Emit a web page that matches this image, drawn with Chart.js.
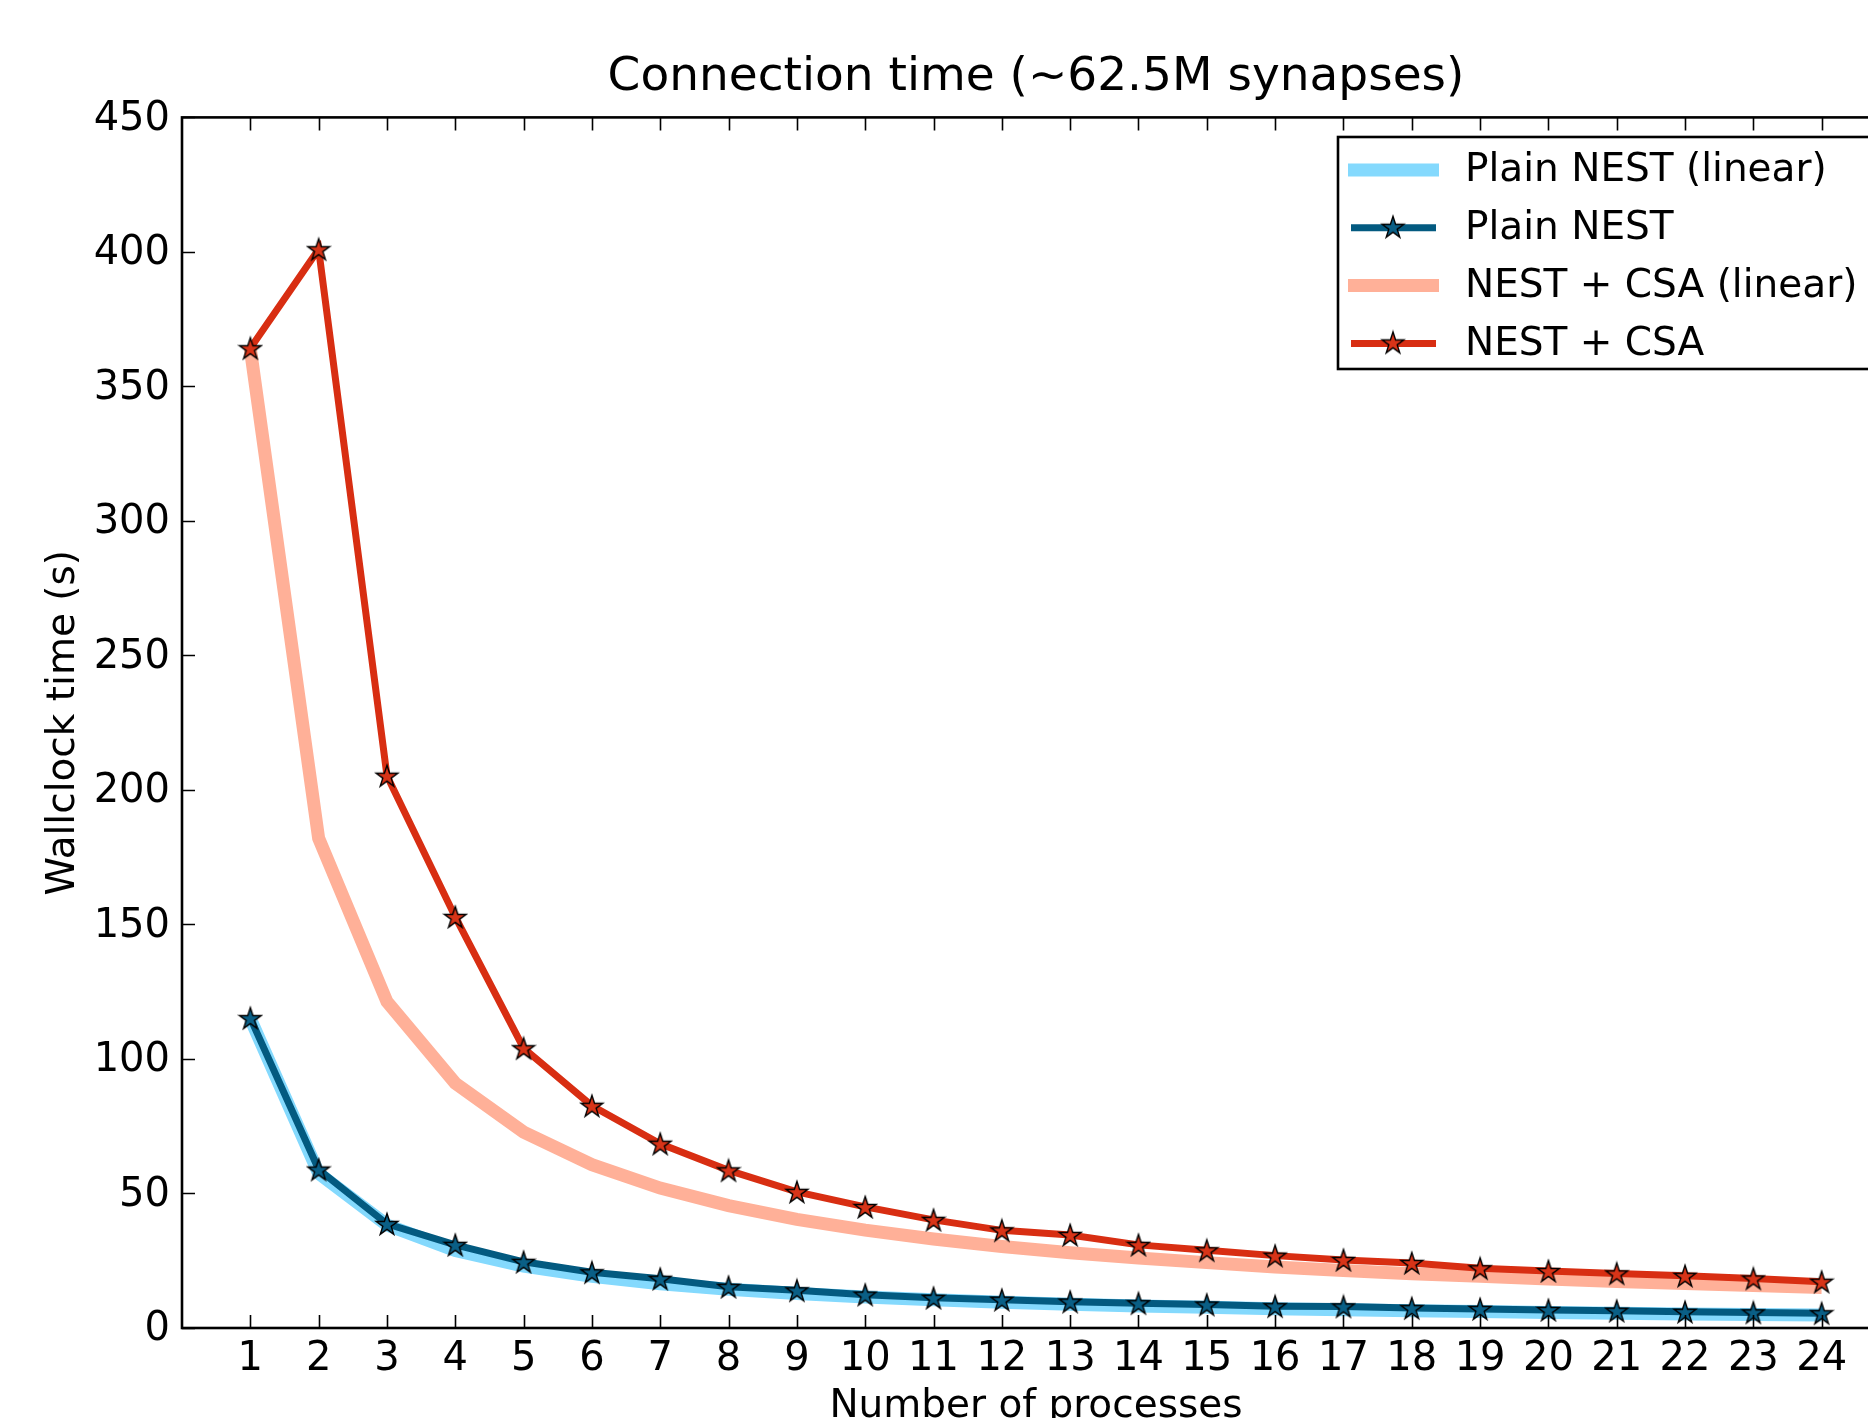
<!DOCTYPE html>
<html lang="en">
<head>
    <meta charset="UTF-8">
    <title>Connection time</title>
    <script src="https://cdn.jsdelivr.net/npm/chart.js"></script>
    <style>
        html, body {
            margin: 0;
            padding: 0;
            background: #fff;
            overflow: hidden;
        }
        #wrap {
            position: absolute;
            left: 0;
            top: 0;
        }
    </style>
</head>
<body>
    <div id="wrap"><canvas id="chart" width="1907" height="1440"></canvas></div>

    <script>
        // valores
        var processes = [1, 2, 3, 4, 5, 6, 7, 8, 9, 10, 11, 12, 13, 14, 15, 16, 17, 18, 19, 20, 21, 22, 23, 24];
        var plainLinear = [115, 57.5, 38.3, 28.8, 23, 19.2, 16.4, 14.4, 12.8, 11.5, 10.5, 9.6, 8.8, 8.2, 7.7, 7.2, 6.8, 6.4, 6.1, 5.8, 5.5, 5.2, 5.0, 4.8];
        var plainNest = [115.2, 58.9, 38.7, 30.9, 24.6, 20.7, 18.3, 15.3, 14.0, 12.4, 11.2, 10.5, 9.8, 9.2, 8.7, 8.1, 8.0, 7.4, 7.1, 6.7, 6.4, 6.0, 5.8, 5.5];
        var csaLinear = [364, 182, 121.3, 91, 72.8, 60.7, 52, 45.5, 40.4, 36.4, 33.1, 30.3, 28, 26, 24.3, 22.7, 21.4, 20.2, 19.2, 18.2, 17.3, 16.5, 15.8, 15.1];
        var csaNest = [364.2, 401.0, 205.3, 152.8, 104.0, 82.6, 68.5, 58.6, 50.6, 45.0, 40.2, 36.3, 34.6, 30.9, 28.9, 26.9, 25.3, 24.2, 22.2, 21.2, 20.3, 19.4, 18.4, 17.2];
        var yTicks = [0, 50, 100, 150, 200, 250, 300, 350, 400, 450];

        Chart.defaults.font.family = "'DejaVu Sans', sans-serif";
        Chart.defaults.color = '#000';

        function pontos(valores) {
            return processes.map(function (p, i) { return { x: p, y: valores[i] }; });
        }

        function estrela(cor) {
            var c = document.createElement('canvas');
            c.width = 26;
            c.height = 26;
            var g = c.getContext('2d');
            g.beginPath();
            for (var i = 0; i < 10; i++) {
                var r = i % 2 ? 4.4 : 11.5;
                var a = -Math.PI / 2 + i * Math.PI / 5;
                g.lineTo(13 + r * Math.cos(a), 14 + r * Math.sin(a));
            }
            g.closePath();
            g.fillStyle = cor;
            g.fill();
            g.lineWidth = 1.4;
            g.strokeStyle = '#000';
            g.stroke();
            return c;
        }

        var moldura = {
            id: 'moldura',
            afterDraw: function (chart) {
                var ctx = chart.ctx;
                var a = chart.chartArea;
                var sx = chart.scales.x, sy = chart.scales.y;
                ctx.save();
                ctx.strokeStyle = '#000';
                ctx.lineWidth = 1.6;
                ctx.beginPath();
                sx.ticks.forEach(function (t) {
                    var px = Math.round(sx.getPixelForValue(t.value)) + 0.5;
                    ctx.moveTo(px, a.bottom); ctx.lineTo(px, a.bottom - 13);
                    ctx.moveTo(px, a.top); ctx.lineTo(px, a.top + 13);
                });
                sy.ticks.forEach(function (t) {
                    var py = Math.round(sy.getPixelForValue(t.value)) + 0.5;
                    ctx.moveTo(a.left, py); ctx.lineTo(a.left + 13, py);
                    ctx.moveTo(a.right, py); ctx.lineTo(a.right - 13, py);
                });
                ctx.stroke();
                ctx.lineWidth = 2.6;
                ctx.strokeRect(a.left, a.top, a.right - a.left, a.bottom - a.top);

                // legenda
                var lx = 1338, ly = 137, lw = 620, lh = 232;
                ctx.fillStyle = '#fff';
                ctx.fillRect(lx, ly, lw, lh);
                ctx.lineWidth = 2.6;
                ctx.strokeRect(lx, ly, lw, lh);
                ctx.font = "39px 'DejaVu Sans'";
                ctx.textBaseline = 'middle';
                ctx.textAlign = 'left';
                chart.data.datasets.forEach(function (ds, i) {
                    var y = 170 + i * 57.8;
                    ctx.strokeStyle = ds.borderColor;
                    ctx.lineWidth = ds.borderWidth;
                    ctx.lineCap = 'butt';
                    ctx.beginPath();
                    ctx.moveTo(ds.pointRadius ? 1351 : 1348, y);
                    ctx.lineTo(ds.pointRadius ? 1436 : 1439, y);
                    ctx.stroke();
                    if (ds.pointRadius) {
                        var img = ds.pointStyle;
                        ctx.drawImage(img, 1393 - img.width / 2, y - img.height / 2 - 1);
                    }
                    ctx.fillStyle = '#000';
                    ctx.fillText(ds.label, 1465, y + 1);
                });
                ctx.restore();
            }
        };

        var ctx = document.getElementById('chart').getContext('2d');
        var grafico = new Chart(ctx, {
            type: 'line',
            data: {
                datasets: [{
                    label: 'Plain NEST (linear)',
                    data: pontos(plainLinear),
                    borderColor: '#84d9fd',
                    borderWidth: 13,
                    pointRadius: 0,
                    order: 4
                }, {
                    label: 'Plain NEST',
                    data: pontos(plainNest),
                    borderColor: '#035a80',
                    borderWidth: 7,
                    pointRadius: 10,
                    pointStyle: estrela('#0a5f86'),
                    order: 3
                }, {
                    label: 'NEST + CSA (linear)',
                    data: pontos(csaLinear),
                    borderColor: '#ffb098',
                    borderWidth: 13,
                    pointRadius: 0,
                    order: 2
                }, {
                    label: 'NEST + CSA',
                    data: pontos(csaNest),
                    borderColor: '#d82e12',
                    borderWidth: 7,
                    pointRadius: 10,
                    pointStyle: estrela('#d83418'),
                    order: 1
                }]
            },
            options: {
                responsive: false,
                animation: false,
                layout: { padding: { left: 0, right: 11, top: 0, bottom: 0 } },
                elements: { line: { tension: 0 } },
                plugins: {
                    legend: { display: false },
                    tooltip: { enabled: false },
                    title: {
                        display: true,
                        text: 'Connection time (~62.5M synapses)',
                        fullSize: false,
                        font: { size: 47, weight: 'normal' },
                        color: '#000',
                        padding: { top: 50, bottom: 11 }
                    }
                },
                scales: {
                    x: {
                        type: 'linear',
                        min: 0,
                        max: 25,
                        afterBuildTicks: function (s) {
                            s.ticks = processes.map(function (v) { return { value: v }; });
                        },
                        afterFit: function (s) { s.height = 112; },
                        grid: { display: false, drawTicks: false },
                        border: { display: false },
                        ticks: { font: { size: 40 }, padding: 8, maxRotation: 0, autoSkip: false },
                        title: {
                            display: true,
                            text: 'Number of processes',
                            font: { size: 39 },
                            padding: { top: 0, bottom: 10 }
                        }
                    },
                    y: {
                        min: 0,
                        max: 450,
                        afterBuildTicks: function (s) {
                            s.ticks = yTicks.map(function (v) { return { value: v }; });
                        },
                        afterFit: function (s) { s.width = 182; },
                        grid: { display: false, drawTicks: false },
                        border: { display: false },
                        ticks: { font: { size: 40 }, padding: 12, labelOffset: 2 },
                        title: {
                            display: true,
                            text: 'Wallclock time (s)',
                            font: { size: 39 },
                            padding: { top: 40, bottom: 0 }
                        }
                    }
                }
            },
            plugins: [moldura]
        });
    </script>
</body>
</html>
